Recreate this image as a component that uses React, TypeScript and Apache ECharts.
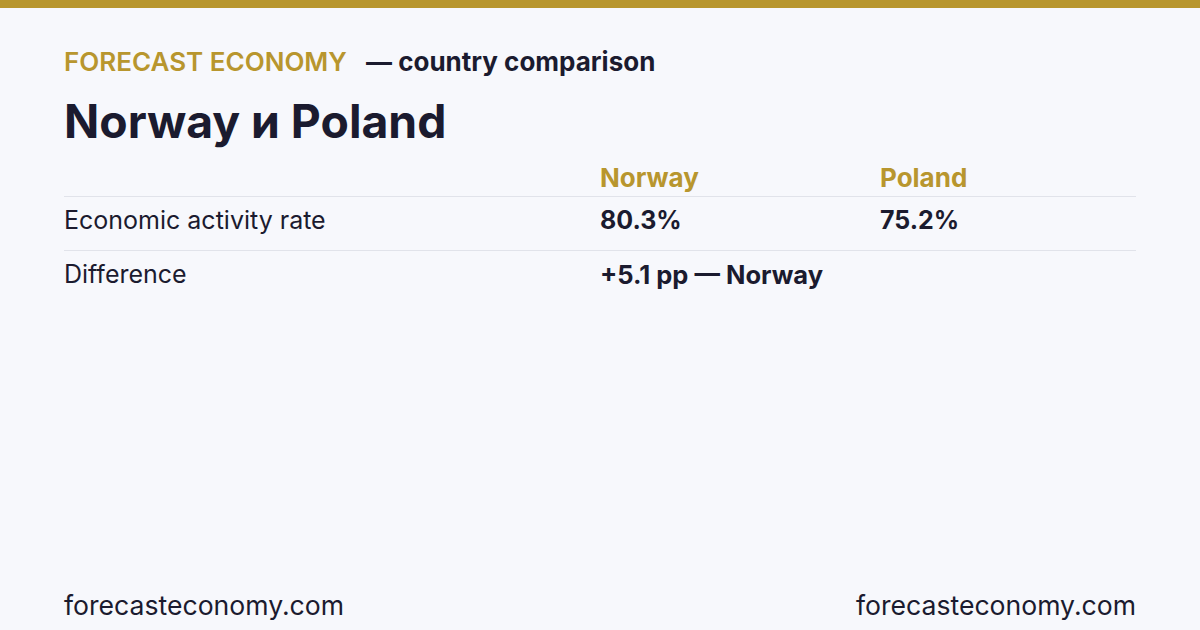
import React, { useEffect, useRef } from 'react';
import * as echarts from 'echarts';

const COLORS = {
  BG: '#f7f8fc',
  GOLD: '#b8962e',
  INK: '#1b1b2f',
  RULE: '#e1e3ea',
};

const FONT = 'Inter, "Noto Sans", sans-serif';

const brand = 'FORECAST ECONOMY';
const subtitle = '— country comparison';
const countries = ['Norway', 'Poland'];
const metrics = ['Economic activity rate', 'Difference'];
const activityRate = [80.3, 75.2];
const differenceText = '+5.1 pp — Norway';
const site = 'forecasteconomy.com';

const W = 1200;
const H = 630;

const App: React.FC = () => {
  const divEL = useRef<HTMLDivElement>(null);

  useEffect(() => {
    document.body.style.margin = '0';
    const instance = echarts.init(divEL.current as any, null, { renderer: 'svg' });

    const colX = [600, 880];
    const txt = (x: number, y: number, text: string, size: number, weight: any, fill: string, align: any = 'left') => ({
      type: 'text',
      x,
      y,
      style: {
        text,
        fill,
        font: `${weight} ${size}px ${FONT}`,
        textAlign: align,
        textVerticalAlign: 'middle',
      },
    });

    const elements: any[] = [
      { type: 'rect', shape: { x: 0, y: 0, width: W, height: 8 }, style: { fill: COLORS.GOLD } },
      txt(64, 61, brand, 26, 600, COLORS.GOLD),
      txt(366, 61, subtitle, 26, 700, COLORS.INK),
      txt(64, 121, `${countries[0]} и ${countries[1]}`, 46.3, 700, COLORS.INK),
      ...countries.map((c, i) => txt(colX[i], 177, c, 26, 700, COLORS.GOLD)),
      { type: 'line', shape: { x1: 64, y1: 196.5, x2: 1136, y2: 196.5 }, style: { stroke: COLORS.RULE, lineWidth: 1 } },
      txt(64, 220, metrics[0], 25, 400, COLORS.INK),
      ...activityRate.map((v, i) => txt(colX[i], 220, `${v.toFixed(1)}%`, 25, 700, COLORS.INK)),
      { type: 'line', shape: { x1: 64, y1: 250.5, x2: 1136, y2: 250.5 }, style: { stroke: COLORS.RULE, lineWidth: 1 } },
      txt(64, 274, metrics[1], 25, 400, COLORS.INK),
      txt(colX[0], 274, differenceText, 25.5, 700, COLORS.INK),
      txt(64, 605, site, 26.6, 400, COLORS.INK),
      txt(1136, 605, site, 26.6, 400, COLORS.INK, 'right'),
    ];

    instance.setOption({
      animation: false,
      backgroundColor: COLORS.BG,
      graphic: { elements },
    });

    return () => {
      instance.dispose();
    };
  }, []);

  return <div ref={divEL} style={{ width: W, height: H }}></div>;
};

export default App;
